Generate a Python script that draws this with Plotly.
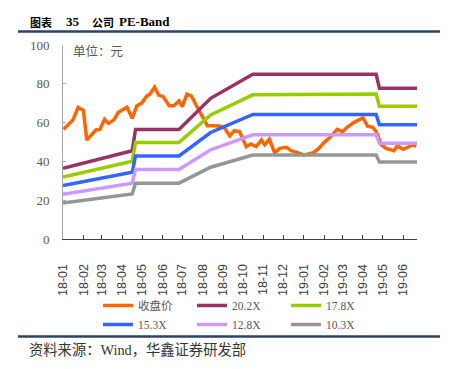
import plotly.graph_objects as go

# ---- data ----
close_dates = ["2018-01-02","2018-01-09","2018-01-16","2018-01-24","2018-02-01","2018-02-06","2018-02-13","2018-02-20","2018-02-26",
               "2018-03-05","2018-03-11","2018-03-19","2018-03-26","2018-04-08","2018-04-16","2018-04-23","2018-05-01","2018-05-08",
               "2018-05-13","2018-05-20","2018-05-26","2018-06-02","2018-06-11","2018-06-18","2018-06-26","2018-07-01","2018-07-08",
               "2018-07-15","2018-07-21","2018-08-01","2018-08-08","2018-08-16","2018-08-26","2018-09-03","2018-09-11","2018-09-18",
               "2018-09-26","2018-10-06","2018-10-13","2018-10-21","2018-10-29","2018-11-03","2018-11-10","2018-11-18","2018-11-26",
               "2018-12-06","2018-12-13","2018-12-23","2019-01-01","2019-01-08","2019-01-16","2019-01-24","2019-02-01","2019-02-11",
               "2019-02-21","2019-03-01","2019-03-08","2019-03-18","2019-04-01","2019-04-08","2019-04-16","2019-04-21","2019-04-29",
               "2019-05-06","2019-05-18","2019-05-23","2019-06-01","2019-06-08","2019-06-16","2019-06-21"]
close_price = [56.5, 58.8, 61.3, 67.9, 66.2, 51.0, 53.6, 56.2, 56.5,
               61.7, 59.6, 61.3, 65.3, 67.9, 62.2, 68.6, 70.3, 73.7,
               74.7, 78.2, 74.2, 73.4, 68.7, 68.7, 71.1, 68.2, 74.7,
               73.7, 69.6, 62.7, 58.4, 58.4, 58.2, 57.2, 53.1, 55.8,
               55.3, 47.6, 49.0, 47.6, 51.0, 48.5, 51.4, 44.5, 46.7,
               47.3, 45.5, 44.5, 43.3, 43.8, 44.5, 46.7, 49.7, 52.7,
               56.5, 55.3, 57.6, 60.0, 62.5, 58.2, 57.6, 55.3, 48.5,
               46.7, 45.5, 47.9, 46.2, 47.3, 48.5, 47.9]

band_dates = ["2018-01-01","2018-04-16","2018-04-21","2018-06-26","2018-08-13","2018-10-16","2019-04-21","2019-04-26","2019-06-22"]
band_202 = [36.4, 45.5, 56.5, 56.5, 72.5, 84.9, 84.9, 77.7, 77.7]
band_178 = [32.0, 40.1, 49.8, 49.8, 63.9, 74.3, 74.7, 68.4, 68.4]
band_153 = [27.5, 34.4, 42.8, 42.8, 54.9, 64.2, 64.2, 58.9, 58.9]
band_128 = [23.0, 28.8, 35.8, 35.8, 46.0, 53.7, 53.7, 49.3, 49.3]
band_103 = [18.5, 23.2, 28.8, 28.8, 37.0, 43.3, 43.3, 39.7, 39.7]

series_names = ["收盘价", "20.2X", "17.8X", "15.3X", "12.8X", "10.3X"]
series_colors = ["#FF6600", "#993366", "#99CC00", "#3366FF", "#CC99FF", "#969696"]
y_ticks = [0, 20, 40, 60, 80, 100]

# ---- figure ----
fig = go.Figure()
fig.add_trace(go.Scatter(x=close_dates, y=close_price, mode="lines", name=series_names[0],
                         line=dict(color=series_colors[0], width=3.5)))
for name, vals, col in zip(series_names[1:], [band_202, band_178, band_153, band_128, band_103], series_colors[1:]):
    fig.add_trace(go.Scatter(x=band_dates, y=vals, mode="lines", name=name,
                             line=dict(color=col, width=3.5)))

L, R, T, B = 63, 36, 45, 130
W, H = 453, 369
pw = W - L - R
ph = H - T - B

def px_x(p):
    return (p - L) / pw

def px_y(p):
    return (H - B - p) / ph

fig.update_layout(
    width=W, height=H,
    margin=dict(l=L, r=R, t=T, b=B, pad=0, autoexpand=False),
    paper_bgcolor="white", plot_bgcolor="white",
    showlegend=True,
    legend=dict(orientation="h", x=px_x(98), xanchor="left", y=px_y(291), yanchor="top",
                font=dict(family="Liberation Serif, Noto Sans CJK SC", size=11.5, color="#595959"),
                entrywidth=49, entrywidthmode="pixels", tracegroupgap=0,
                bgcolor="rgba(0,0,0,0)"),
    xaxis=dict(type="date", range=["2018-01-01", "2019-06-22"], dtick="M1", tick0="2018-01-01",
               tickformat="%y-%m", tickangle=-90,
               showgrid=False, zeroline=False, showline=True, linecolor="#404040", linewidth=1,
               ticks="inside", ticklen=4, tickcolor="#404040",
               tickfont=dict(family="Liberation Sans, Arial", size=12.5, color="#404040"),
               ticklabelstandoff=19),
    yaxis=dict(range=[0, 100], tickvals=y_ticks, showgrid=False, zeroline=False,
               showline=True, linecolor="#A6A6A6", linewidth=1,
               ticks="inside", ticklen=3, tickcolor="#A6A6A6",
               tickfont=dict(family="Liberation Serif, DejaVu Serif", size=13, color="#595959"),
               ticklabelstandoff=10),
)

# separator lines
for yy in [31.5, 336.5]:
    fig.add_shape(type="line", xref="paper", yref="paper", x0=px_x(18), x1=px_x(440), y0=px_y(yy), y1=px_y(yy),
                  line=dict(color="#2C4267", width=2.5))

# title pieces
title_parts = [("图表", 28, "Noto Sans CJK SC", 11), ("35", 64, "Liberation Serif", 13),
               ("公司", 90, "Noto Sans CJK SC", 11), ("PE-Band", 116.5, "Liberation Serif", 13)]
for txt, xp, fam, sz in title_parts:
    fig.add_annotation(text="<b>" + txt + "</b>", xref="paper", yref="paper", x=px_x(xp), y=px_y(22),
                       xanchor="left", yanchor="middle", showarrow=False,
                       font=dict(family=fam, size=sz, color="#000000"))

# unit label
fig.add_annotation(text="单位：元", xref="paper", yref="paper", x=px_x(71), y=px_y(50),
                   xanchor="left", yanchor="middle", showarrow=False,
                   font=dict(family="Noto Sans CJK SC", size=12.5, color="#595959"))

# source
fig.add_annotation(text="资料来源：<span style='font-family:Liberation Serif'>Wind</span>，华鑫证券研发部",
                   xref="paper", yref="paper", x=px_x(27), y=px_y(348),
                   xanchor="left", yanchor="middle", showarrow=False,
                   font=dict(family="Noto Sans CJK SC", size=14.3, color="#333333"))

fig.write_html("out.html", config={"displayModeBar": False},
               post_script="document.body.style.margin='0';document.body.style.padding='0';")
